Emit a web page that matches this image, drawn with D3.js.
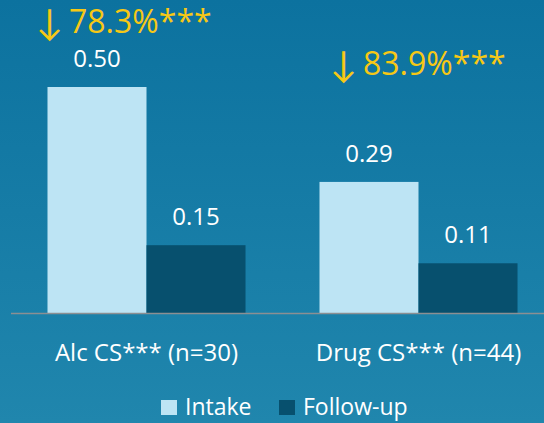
<!DOCTYPE html>
<html>
<head>
<meta charset="utf-8">
<script src="https://cdn.jsdelivr.net/npm/d3@7"></script>
<style>
  html, body { margin: 0; padding: 0; }
  body { width: 544px; height: 423px; overflow: hidden; }
  text { font-family: "Open Sans", Lato, sans-serif; }
</style>
</head>
<body>
<div id="chart"></div>
<script>
var categories = ["Alc CS*** (n=30)", "Drug CS*** (n=44)"];
var seriesNames = ["Intake", "Follow-up"];
var intake = [0.50, 0.29];
var followUp = [0.15, 0.11];
var valueLabels = [["0.50", "0.15"], ["0.29", "0.11"]];
var changeLabels = ["\u219378.3%***", "\u219383.9%***"];

var width = 544, height = 423;
var colors = ["#bde4f4", "#07506e"];

// where the yellow call-outs sit (free text boxes in the original)
var annotPos = [[36, 33], [330, 75]];

var svg = d3.select("#chart").append("svg")
  .attr("width", width)
  .attr("height", height);

var grad = svg.append("defs").append("linearGradient")
  .attr("id", "bg")
  .attr("x1", 0).attr("y1", 0).attr("x2", 0).attr("y2", 1);
grad.append("stop").attr("offset", "0%").attr("stop-color", "#0c729f");
grad.append("stop").attr("offset", "100%").attr("stop-color", "#2086ad");

svg.append("rect")
  .attr("width", width)
  .attr("height", height)
  .attr("fill", "url(#bg)");

// scales
var x0 = d3.scaleBand()
  .domain(categories)
  .range([10.5, 554.5])
  .paddingInner(0.272)
  .paddingOuter(0.136);

var x1 = d3.scaleBand()
  .domain(seriesNames)
  .range([0, x0.bandwidth()]);

var y = d3.scaleLinear()
  .domain([0, 0.5])
  .range([313, 87]);

var rows = categories.map(function(c, i) {
  return { cat: c, vals: [intake[i], followUp[i]], labels: valueLabels[i] };
});

var groups = svg.selectAll("g.grp")
  .data(rows)
  .enter()
  .append("g")
  .attr("class", "grp")
  .attr("transform", function(d) { return "translate(" + x0(d.cat) + ",0)"; });

groups.selectAll("rect")
  .data(function(d) { return d.vals.map(function(v, j) { return { v: v, s: seriesNames[j], j: j }; }); })
  .enter()
  .append("rect")
  .attr("x", function(d) { return x1(d.s); })
  .attr("y", function(d) { return y(d.v); })
  .attr("width", x1.bandwidth())
  .attr("height", function(d) { return y(0) - y(d.v); })
  .style("fill", function(d) { return colors[d.j]; });

groups.selectAll("text.val")
  .data(function(d) { return d.vals.map(function(v, j) { return { v: v, s: seriesNames[j], lab: d.labels[j] }; }); })
  .enter()
  .append("text")
  .attr("class", "val")
  .attr("x", function(d) { return x1(d.s) + x1.bandwidth() / 2; })
  .attr("y", function(d) { return y(d.v) - 20; })
  .attr("text-anchor", "middle")
  .style("font-size", "24px")
  .style("fill", "#ffffff")
  .text(function(d) { return d.lab; });

// yellow change call-outs; arrow glyph a little bigger
var chg = svg.selectAll("text.chg")
  .data(changeLabels)
  .enter()
  .append("text")
  .attr("class", "chg")
  .attr("x", function(d, i) { return annotPos[i][0]; })
  .attr("y", function(d, i) { return annotPos[i][1]; })
  .style("font-size", "32px")
  .style("fill", "#f7c815");
chg.append("tspan")
  .style("font-size", "36px")
  .attr("dy", 2)
  .text(function(d) { return d.charAt(0); });
chg.append("tspan")
  .attr("dx", 6)
  .attr("dy", -2)
  .text(function(d) { return d.slice(1); });

// axis baseline
svg.append("line")
  .attr("x1", 11).attr("x2", 544)
  .attr("y1", y(0) + 0.5).attr("y2", y(0) + 0.5)
  .style("stroke", "#8c8f92")
  .style("stroke-width", 1.5);

var xAxis = d3.axisBottom(x0).tickSize(0).tickPadding(22);
var xAxisGroup = svg.append("g")
  .attr("transform", "translate(0," + y(0) + ")")
  .call(xAxis);
xAxisGroup.select(".domain").remove();
xAxisGroup.selectAll("text")
  .attr("dy", null)
  .attr("y", 48)
  .style("font-size", "24px")
  .style("font-family", "'Open Sans', Lato, sans-serif")
  .style("fill", "#ffffff");

// legend
var legend = svg.append("g").attr("transform", "translate(0,415)");
var legX = [161, 279];
seriesNames.forEach(function(s, j) {
  legend.append("rect")
    .attr("x", legX[j]).attr("y", -15)
    .attr("width", 16).attr("height", 15)
    .style("fill", colors[j]);
  legend.append("text")
    .attr("x", legX[j] + 24).attr("y", 0)
    .style("font-size", "23px")
    .style("fill", "#ffffff")
    .text(s);
});
</script>
</body>
</html>
